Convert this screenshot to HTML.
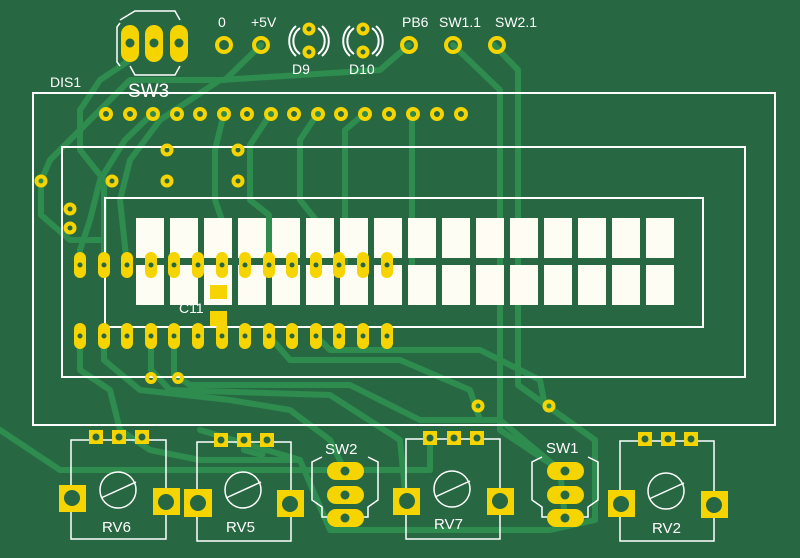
<!DOCTYPE html>
<html><head><meta charset="utf-8"><style>
html,body{margin:0;padding:0;background:#276843;}
svg{display:block}
text{font-family:"Liberation Sans","DejaVu Sans",sans-serif;fill:#fff}
</style></head><body>
<svg width="800" height="558" viewBox="0 0 800 558" xmlns="http://www.w3.org/2000/svg">
<rect width="800" height="558" fill="#276843"/>
<!-- traces -->
<g fill="none" stroke="#2e9150" stroke-width="6" stroke-linejoin="round" stroke-linecap="round" opacity="0.9">
<polyline points="453,45 500,90 500,430 560,470 565,518"/>
<polyline points="494,45 518,70 518,385 595,440 595,520 550,530 330,530 300,460 200,430"/>
<polyline points="261,45 225,80 130,80 90,120 50,160 41,181 41,215 70,240 100,240"/>
<polyline points="130,60 100,80 80,110 80,150 104,180 104,265"/>
<polyline points="409,45 380,70 220,80 160,120 130,160 120,200 127,265"/>
<polyline points="412,113 412,265"/>
<polyline points="365,113 345,130 345,265"/>
<polyline points="318,113 300,140 300,200 316,220 316,265"/>
<polyline points="271,113 250,145 250,200 269,215 269,265"/>
<polyline points="224,113 215,150 215,200 222,220 222,265"/>
<polyline points="153,113 125,140 100,180 90,220 80,250 80,265"/>
<polyline points="80,336 80,370 110,390 120,430 150,450 200,460 300,460"/>
<polyline points="104,336 104,360 140,390 230,400 290,410 330,440 345,471"/>
<polyline points="151,336 151,370 170,390 330,395 400,440 406,501"/>
<polyline points="174,336 174,375 190,385 350,385 420,420 500,420 560,470"/>
<polyline points="269,336 290,360 400,360 470,390 480,420"/>
<polyline points="316,336 330,350 480,350 540,380 545,406"/>
<polyline points="0,430 60,470 150,470 300,470 430,470"/>
<polyline points="430,438 430,470"/>
<polyline points="244,440 244,450 262,455 267,440"/>
</g>
<!-- silkscreen outlines -->
<g fill="none" stroke="#fff" stroke-width="2">
<rect x="33" y="93" width="742" height="332"/>
<rect x="62" y="147" width="683" height="230"/>
<rect x="105" y="198" width="598" height="129"/>
<rect x="71" y="440" width="95" height="99" stroke-width="1.5"/>
<rect x="197" y="442" width="94" height="99" stroke-width="1.5"/>
<rect x="406" y="439" width="94" height="100" stroke-width="1.5"/>
<rect x="620" y="441" width="94" height="100" stroke-width="1.5"/>
<circle cx="118" cy="490" r="18" stroke-width="1.5"/><line x1="101" y1="498" x2="136" y2="482" stroke-width="1.5"/>
<circle cx="243" cy="490" r="18" stroke-width="1.5"/><line x1="226" y1="498" x2="261" y2="482" stroke-width="1.5"/>
<circle cx="452" cy="489" r="18" stroke-width="1.5"/><line x1="435" y1="497" x2="470" y2="481" stroke-width="1.5"/>
<circle cx="666" cy="491" r="18" stroke-width="1.5"/><line x1="649" y1="499" x2="684" y2="483" stroke-width="1.5"/>
<polyline points="120,20 135,11 175,11 180,20" stroke-width="1.5"/>
<polyline points="120,23 117,27 117,62 120,66" stroke-width="1.5"/>
<polyline points="130,66 135,75 175,75 180,66" stroke-width="1.5"/>
<polyline points="322,457 312,462 312,500 322,507 322,517 368,517 368,507 378,500 378,462 368,457" stroke-width="1.5"/>
<polyline points="542,457 532,462 532,500 542,507 542,517 588,517 588,507 598,500 598,462 588,457" stroke-width="1.5"/>
<path d="M300,28 A16,16 0 0 0 300,54 M318,28 A16,16 0 0 1 318,54 M296,26 A20,20 0 0 0 296,56 M322,26 A20,20 0 0 1 322,56" stroke-width="2"/>
<path d="M354,28 A16,16 0 0 0 354,54 M372,28 A16,16 0 0 1 372,54 M350,26 A20,20 0 0 0 350,56 M376,26 A20,20 0 0 1 376,56" stroke-width="2"/>
</g>
<!-- segments -->
<g fill="#fdfdf3" id="seg"></g>
<g fill="#fdfdf3">
<rect x="136" y="218" width="28" height="40"/><rect x="170" y="218" width="28" height="40"/><rect x="204" y="218" width="28" height="40"/><rect x="238" y="218" width="28" height="40"/><rect x="272" y="218" width="28" height="40"/><rect x="306" y="218" width="28" height="40"/><rect x="340" y="218" width="28" height="40"/><rect x="374" y="218" width="28" height="40"/><rect x="408" y="218" width="28" height="40"/><rect x="442" y="218" width="28" height="40"/><rect x="476" y="218" width="28" height="40"/><rect x="510" y="218" width="28" height="40"/><rect x="544" y="218" width="28" height="40"/><rect x="578" y="218" width="28" height="40"/><rect x="612" y="218" width="28" height="40"/><rect x="646" y="218" width="28" height="40"/>
<rect x="136" y="265" width="28" height="40"/><rect x="170" y="265" width="28" height="40"/><rect x="204" y="265" width="28" height="40"/><rect x="238" y="265" width="28" height="40"/><rect x="272" y="265" width="28" height="40"/><rect x="306" y="265" width="28" height="40"/><rect x="340" y="265" width="28" height="40"/><rect x="374" y="265" width="28" height="40"/><rect x="408" y="265" width="28" height="40"/><rect x="442" y="265" width="28" height="40"/><rect x="476" y="265" width="28" height="40"/><rect x="510" y="265" width="28" height="40"/><rect x="544" y="265" width="28" height="40"/><rect x="578" y="265" width="28" height="40"/><rect x="612" y="265" width="28" height="40"/><rect x="646" y="265" width="28" height="40"/>
</g>
<!-- pads -->
<g fill="#f5d400">
<!-- top row ring pads -->
<g stroke="#f5d400" stroke-width="4" fill="none">
<circle cx="106" cy="114" r="5"/><circle cx="130" cy="114" r="5"/><circle cx="153" cy="114" r="5"/><circle cx="177" cy="114" r="5"/><circle cx="200" cy="114" r="5"/><circle cx="224" cy="114" r="5"/><circle cx="247" cy="114" r="5"/><circle cx="271" cy="114" r="5"/><circle cx="294" cy="114" r="5"/><circle cx="318" cy="114" r="5"/><circle cx="341" cy="114" r="5"/><circle cx="365" cy="114" r="5"/><circle cx="389" cy="114" r="5"/><circle cx="413" cy="114" r="5"/><circle cx="437" cy="114" r="5"/><circle cx="461" cy="114" r="5"/>
<circle cx="167" cy="150" r="4.5"/><circle cx="238" cy="150" r="4.5"/><circle cx="41" cy="181" r="4.5"/><circle cx="112" cy="181" r="4.5"/><circle cx="167" cy="181" r="4.5"/><circle cx="238" cy="181" r="4.5"/><circle cx="70" cy="209" r="4.5"/><circle cx="70" cy="228" r="4.5"/><circle cx="151" cy="378" r="4"/><circle cx="178" cy="378" r="4"/><circle cx="478" cy="406" r="4.5"/><circle cx="549" cy="406" r="4.5"/>
<circle cx="224" cy="45" r="7"/><circle cx="261" cy="45" r="7"/><circle cx="409" cy="45" r="7"/><circle cx="453" cy="45" r="7"/><circle cx="497" cy="45" r="7"/>
<circle cx="309" cy="29" r="4.5"/><circle cx="309" cy="52" r="4.5"/><circle cx="363" cy="29" r="4.5"/><circle cx="363" cy="52" r="4.5"/>
</g>
<!-- oval pads -->
<g>
<rect x="74" y="252" width="12" height="26" rx="6"/><rect x="98" y="252" width="12" height="26" rx="6"/><rect x="121" y="252" width="12" height="26" rx="6"/><rect x="145" y="252" width="12" height="26" rx="6"/><rect x="168" y="252" width="12" height="26" rx="6"/><rect x="192" y="252" width="12" height="26" rx="6"/><rect x="216" y="252" width="12" height="26" rx="6"/><rect x="239" y="252" width="12" height="26" rx="6"/><rect x="263" y="252" width="12" height="26" rx="6"/><rect x="286" y="252" width="12" height="26" rx="6"/><rect x="310" y="252" width="12" height="26" rx="6"/><rect x="333" y="252" width="12" height="26" rx="6"/><rect x="357" y="252" width="12" height="26" rx="6"/><rect x="381" y="252" width="12" height="26" rx="6"/>
<rect x="74" y="323" width="12" height="26" rx="6"/><rect x="98" y="323" width="12" height="26" rx="6"/><rect x="121" y="323" width="12" height="26" rx="6"/><rect x="145" y="323" width="12" height="26" rx="6"/><rect x="168" y="323" width="12" height="26" rx="6"/><rect x="192" y="323" width="12" height="26" rx="6"/><rect x="216" y="323" width="12" height="26" rx="6"/><rect x="239" y="323" width="12" height="26" rx="6"/><rect x="263" y="323" width="12" height="26" rx="6"/><rect x="286" y="323" width="12" height="26" rx="6"/><rect x="310" y="323" width="12" height="26" rx="6"/><rect x="333" y="323" width="12" height="26" rx="6"/><rect x="357" y="323" width="12" height="26" rx="6"/><rect x="381" y="323" width="12" height="26" rx="6"/>
<!-- SW3 -->
<rect x="121" y="25" width="18" height="37" rx="9"/><rect x="145" y="25" width="18" height="37" rx="9"/><rect x="170" y="25" width="18" height="37" rx="9"/>
<!-- SW2 / SW1 -->
<rect x="327" y="462" width="37" height="18" rx="9"/><rect x="327" y="486" width="37" height="18" rx="9"/><rect x="327" y="509" width="37" height="18" rx="9"/>
<rect x="547" y="462" width="37" height="18" rx="9"/><rect x="547" y="486" width="37" height="18" rx="9"/><rect x="547" y="509" width="37" height="18" rx="9"/>
<!-- C11 -->
<rect x="210" y="285" width="17" height="14"/><rect x="210" y="311" width="17" height="15"/>
<!-- RV top pads -->
<rect x="89" y="430" width="14" height="14"/><rect x="112" y="430" width="14" height="14"/><rect x="135" y="430" width="14" height="14"/>
<rect x="214" y="433" width="14" height="14"/><rect x="237" y="433" width="14" height="14"/><rect x="260" y="433" width="14" height="14"/>
<rect x="423" y="431" width="14" height="14"/><rect x="447" y="431" width="14" height="14"/><rect x="470" y="431" width="14" height="14"/>
<rect x="638" y="432" width="14" height="14"/><rect x="661" y="432" width="14" height="14"/><rect x="684" y="432" width="14" height="14"/>
<!-- RV big pads -->
<rect x="59" y="485" width="27" height="27"/><rect x="153" y="488" width="27" height="27"/>
<rect x="184" y="489" width="28" height="28"/><rect x="277" y="490" width="27" height="27"/>
<rect x="393" y="488" width="27" height="27"/><rect x="487" y="488" width="27" height="27"/>
<rect x="608" y="490" width="27" height="27"/><rect x="701" y="491" width="27" height="27"/>
</g>
</g>
<!-- holes -->
<g fill="#276843">
<circle cx="80" cy="265" r="2.5"/><circle cx="104" cy="265" r="2.5"/><circle cx="127" cy="265" r="2.5"/><circle cx="151" cy="265" r="2.5"/><circle cx="174" cy="265" r="2.5"/><circle cx="198" cy="265" r="2.5"/><circle cx="222" cy="265" r="2.5"/><circle cx="245" cy="265" r="2.5"/><circle cx="269" cy="265" r="2.5"/><circle cx="292" cy="265" r="2.5"/><circle cx="316" cy="265" r="2.5"/><circle cx="339" cy="265" r="2.5"/><circle cx="363" cy="265" r="2.5"/><circle cx="387" cy="265" r="2.5"/>
<circle cx="80" cy="336" r="2.5"/><circle cx="104" cy="336" r="2.5"/><circle cx="127" cy="336" r="2.5"/><circle cx="151" cy="336" r="2.5"/><circle cx="174" cy="336" r="2.5"/><circle cx="198" cy="336" r="2.5"/><circle cx="222" cy="336" r="2.5"/><circle cx="245" cy="336" r="2.5"/><circle cx="269" cy="336" r="2.5"/><circle cx="292" cy="336" r="2.5"/><circle cx="316" cy="336" r="2.5"/><circle cx="339" cy="336" r="2.5"/><circle cx="363" cy="336" r="2.5"/><circle cx="387" cy="336" r="2.5"/>
<circle cx="130" cy="43" r="4.5"/><circle cx="154" cy="43" r="4.5"/><circle cx="179" cy="43" r="4.5"/>
<circle cx="345" cy="471" r="4.5"/><circle cx="345" cy="495" r="4.5"/><circle cx="345" cy="518" r="4.5"/>
<circle cx="565" cy="471" r="4.5"/><circle cx="565" cy="495" r="4.5"/><circle cx="565" cy="518" r="4.5"/>
<circle cx="96" cy="437" r="3.5"/><circle cx="119" cy="437" r="3.5"/><circle cx="142" cy="437" r="3.5"/>
<circle cx="221" cy="440" r="3.5"/><circle cx="244" cy="440" r="3.5"/><circle cx="267" cy="440" r="3.5"/>
<circle cx="430" cy="438" r="3.5"/><circle cx="454" cy="438" r="3.5"/><circle cx="477" cy="438" r="3.5"/>
<circle cx="645" cy="439" r="3.5"/><circle cx="668" cy="439" r="3.5"/><circle cx="691" cy="439" r="3.5"/>
<circle cx="72" cy="498" r="8"/><circle cx="166" cy="502" r="8"/><circle cx="198" cy="503" r="8"/><circle cx="290" cy="504" r="8"/><circle cx="407" cy="501" r="8"/><circle cx="500" cy="501" r="8"/><circle cx="621" cy="504" r="8"/><circle cx="714" cy="505" r="8"/>
</g>
<!-- labels -->
<text x="50" y="87" font-size="14">DIS1</text>
<text x="128" y="97" font-size="19">SW3</text>
<text x="218" y="27" font-size="14">0</text>
<text x="251" y="27" font-size="14">+5V</text>
<text x="292" y="74" font-size="14">D9</text>
<text x="349" y="74" font-size="14">D10</text>
<text x="402" y="27" font-size="14">PB6</text>
<text x="439" y="27" font-size="14">SW1.1</text>
<text x="495" y="27" font-size="14">SW2.1</text>
<text x="179" y="313" font-size="14">C11</text>
<text x="102" y="532" font-size="15">RV6</text>
<text x="226" y="532" font-size="15">RV5</text>
<text x="434" y="529" font-size="15">RV7</text>
<text x="652" y="533" font-size="15">RV2</text>
<text x="325" y="454" font-size="15">SW2</text>
<text x="546" y="453" font-size="15">SW1</text>
</svg>
</body></html>
